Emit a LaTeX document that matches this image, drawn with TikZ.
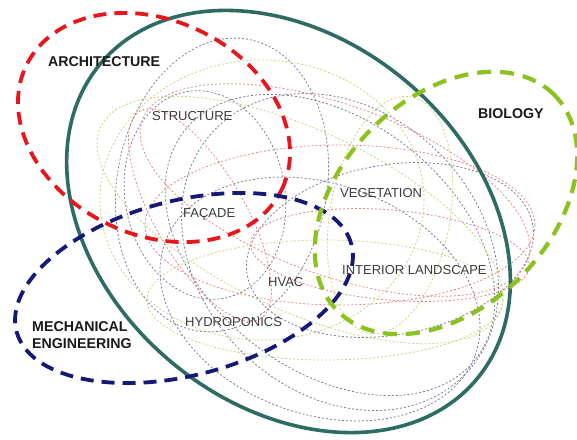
\documentclass[tikz,border=0pt]{standalone}
\usepackage{fontspec}
\setmainfont{Liberation Sans}
\definecolor{tealc}{RGB}{45,108,98}
\definecolor{redc}{RGB}{232,22,28}
\definecolor{bluec}{RGB}{22,24,120}
\definecolor{greenc}{RGB}{140,194,30}
\definecolor{grayd}{RGB}{118,118,150}
\definecolor{greend}{RGB}{190,215,125}
\definecolor{pinkd}{RGB}{235,130,130}
\definecolor{labelc}{RGB}{60,60,60}
\tikzset{
  thinline/.style={line width=0.75pt, dash pattern=on 2pt off 2pt},
  gd/.style={thinline, draw=grayd},
  grd/.style={thinline, draw=greend},
  pd/.style={thinline, draw=pinkd},
  bigdash/.style={line width=3.8pt, dash pattern=on 13pt off 8pt},
  fieldlbl/.style={font=\fontsize{14.2}{17}\selectfont\bfseries, text=black!90, inner sep=0pt},
  topiclbl/.style={font=\fontsize{13}{15}\selectfont, text=labelc, inner sep=0pt},
}
\begin{document}
\begin{tikzpicture}[x=1pt,y=1pt]
\useasboundingbox (0,0) rectangle (577,439);
\fill[white] (0,0) rectangle (577,439);
% thin dotted ellipses
\draw[gd] (222,254) ellipse [x radius=105, y radius=148, rotate=-10];
\draw[gd] (340,187) ellipse [x radius=175, y radius=140, rotate=-45];
\draw[gd] (330,194) ellipse [x radius=185, y radius=125, rotate=-38];
\draw[gd] (390,189) ellipse [x radius=145, y radius=85, rotate=10];
\draw[gd] (205,244) ellipse [x radius=80, y radius=105, rotate=10];
\draw[gd] (320,140) ellipse [x radius=165, y radius=115, rotate=-20];
\draw[grd] (262,239) ellipse [x radius=162, y radius=140];
\draw[grd] (325,139) ellipse [x radius=178, y radius=60];
\draw[grd] (390,224) ellipse [x radius=60, y radius=120, rotate=-10];
\draw[grd] (300,219) ellipse [x radius=220, y radius=90, rotate=-25];
\draw[pd] (335,249) ellipse [x radius=205, y radius=85, rotate=-20];
\draw[pd] (200,224) ellipse [x radius=120, y radius=45, rotate=-60];
\draw[pd] (340,214) ellipse [x radius=195, y radius=80];
\draw[pd] (390,184) ellipse [x radius=140, y radius=45, rotate=-5];
% main ellipses
\draw[tealc, line width=3.6pt] (288.5,217.5) ellipse [x radius=245.5, y radius=183, rotate=-40];
\draw[redc, bigdash] (154,311.5) ellipse [x radius=142, y radius=107, rotate=-26];
\draw[bluec, bigdash] (184,151) ellipse [x radius=173, y radius=87.4, rotate=14.5];
\draw[greenc, bigdash, line width=4.2pt, dash pattern=on 14pt off 9pt] (446,236) ellipse [x radius=153, y radius=105, rotate=45];
% labels
\node[fieldlbl, anchor=west] (arch) at (48,377) {ARCHITECTURE};
\node[fieldlbl, anchor=west] (bio) at (478,325) {BIOLOGY};
\node[fieldlbl, anchor=north west, align=left] (mech) at (32,118) {MECHANICAL\\ENGINEERING};
\node[topiclbl, anchor=west] (struct) at (152,323) {STRUCTURE};
\node[topiclbl, anchor=west] (facade) at (183,225) {FAÇADE};
\node[topiclbl, anchor=west] (veg) at (340,246) {VEGETATION};
\node[topiclbl, anchor=west] (interior) at (342,169) {INTERIOR LANDSCAPE};
\node[topiclbl, anchor=west] (hvac) at (268,157) {HVAC};
\node[topiclbl, anchor=west] (hydro) at (185,117) {HYDROPONICS};
\end{tikzpicture}
\end{document}
